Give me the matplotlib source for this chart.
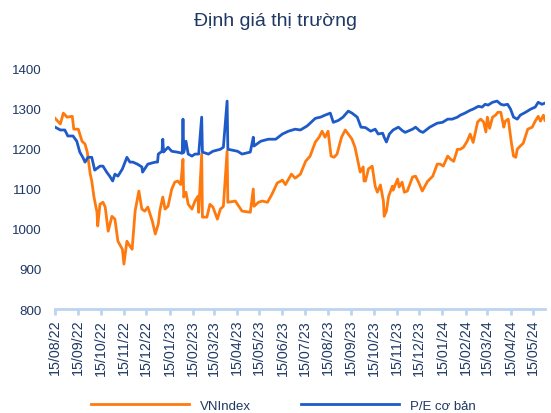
import matplotlib
matplotlib.use("Agg")
import matplotlib.pyplot as plt
import matplotlib.dates as mdates
import pandas as pd

plt.rcParams['font.family'] = ['Liberation Sans', 'DejaVu Sans']

title = "Định giá thị trường"
series_names = ["VNIndex", "P/E cơ bản"]

vn_dates = [
    "2022-08-15", "2022-08-22", "2022-08-26", "2022-08-31", "2022-09-07", "2022-09-09",
    "2022-09-15", "2022-09-20", "2022-09-24", "2022-09-27", "2022-10-01", "2022-10-03",
    "2022-10-06", "2022-10-10", "2022-10-11", "2022-10-14", "2022-10-18", "2022-10-21",
    "2022-10-25", "2022-10-30", "2022-11-03", "2022-11-07", "2022-11-13", "2022-11-15",
    "2022-11-19", "2022-11-23", "2022-11-26", "2022-11-30", "2022-12-05", "2022-12-09",
    "2022-12-13", "2022-12-17", "2022-12-23", "2022-12-27", "2022-12-31", "2023-01-02",
    "2023-01-06", "2023-01-09", "2023-01-13", "2023-01-18", "2023-01-22", "2023-01-26",
    "2023-01-30", "2023-02-02", "2023-02-03", "2023-02-06", "2023-02-09", "2023-02-14",
    "2023-02-18", "2023-02-22", "2023-02-23", "2023-02-27", "2023-02-28", "2023-03-06",
    "2023-03-10", "2023-03-14", "2023-03-20", "2023-03-24", "2023-03-28", "2023-04-02",
    "2023-04-03", "2023-04-13", "2023-04-22", "2023-05-03", "2023-05-07", "2023-05-08",
    "2023-05-14", "2023-05-19", "2023-05-26", "2023-06-01", "2023-06-08", "2023-06-15",
    "2023-06-19", "2023-06-27", "2023-07-02", "2023-07-09", "2023-07-16", "2023-07-22",
    "2023-07-29", "2023-08-03", "2023-08-07", "2023-08-11", "2023-08-15", "2023-08-19",
    "2023-08-23", "2023-08-27", "2023-09-02", "2023-09-07", "2023-09-11", "2023-09-16",
    "2023-09-20", "2023-09-27", "2023-10-01", "2023-10-02", "2023-10-04", "2023-10-08",
    "2023-10-13", "2023-10-17", "2023-10-20", "2023-10-24", "2023-10-28", "2023-10-29",
    "2023-11-01", "2023-11-04", "2023-11-09", "2023-11-10", "2023-11-16", "2023-11-18",
    "2023-11-22", "2023-11-25", "2023-11-29", "2023-12-06", "2023-12-10", "2023-12-14",
    "2023-12-19", "2023-12-26", "2024-01-02", "2024-01-08", "2024-01-12", "2024-01-16",
    "2024-01-22", "2024-01-26", "2024-01-30", "2024-02-04", "2024-02-08", "2024-02-12",
    "2024-02-17", "2024-02-21", "2024-02-25", "2024-03-02", "2024-03-06", "2024-03-10",
    "2024-03-13", "2024-03-15", "2024-03-18", "2024-03-22", "2024-03-26", "2024-03-29",
    "2024-04-02", "2024-04-06", "2024-04-08", "2024-04-12", "2024-04-16", "2024-04-19",
    "2024-04-22", "2024-04-24", "2024-04-28", "2024-05-02", "2024-05-08", "2024-05-14",
    "2024-05-18", "2024-05-22", "2024-05-25", "2024-05-29", "2024-05-31",
]
vn_values = [
    1275, 1261, 1288, 1278, 1280, 1248,
    1248, 1218, 1211, 1191, 1136, 1119,
    1079, 1041, 1007, 1061, 1066, 1054,
    994, 1031, 1024, 969, 949, 912,
    969, 957, 949, 1044, 1094, 1049,
    1044, 1054, 1019, 987, 1012, 1044,
    1079, 1049, 1056, 1099, 1116, 1119,
    1110, 1173, 1079, 1091, 1061, 1049,
    1069, 1081, 1041, 1186, 1029, 1029,
    1061, 1054, 1024, 1049, 1056, 1193,
    1066, 1069, 1044, 1041, 1099, 1056,
    1066, 1069, 1066, 1086, 1114, 1121,
    1110, 1136, 1126, 1136, 1168, 1181,
    1216, 1228, 1243, 1228, 1243, 1181,
    1178, 1186, 1228, 1246, 1236, 1223,
    1203, 1141, 1154, 1119, 1119, 1149,
    1156, 1106, 1091, 1109, 1069, 1031,
    1044, 1081, 1106, 1096, 1124, 1104,
    1116, 1091, 1094, 1129, 1131, 1116,
    1094, 1118, 1131, 1161, 1161, 1156,
    1181, 1173, 1168, 1198, 1198, 1203,
    1218, 1236, 1215, 1266, 1273, 1266,
    1241, 1278, 1250, 1278, 1283, 1290,
    1290, 1253, 1268, 1273, 1216, 1181,
    1178, 1198, 1206, 1213, 1248, 1253,
    1268, 1280, 1268, 1283, 1270,
]

pe_dates = [
    "2022-08-15", "2022-08-22", "2022-08-28", "2022-09-01", "2022-09-08", "2022-09-13",
    "2022-09-17", "2022-09-21", "2022-09-24", "2022-09-28", "2022-10-03", "2022-10-07",
    "2022-10-14", "2022-10-18", "2022-10-23", "2022-10-27", "2022-10-31", "2022-11-03",
    "2022-11-07", "2022-11-13", "2022-11-19", "2022-11-23", "2022-11-27", "2022-12-03",
    "2022-12-09", "2022-12-10", "2022-12-17", "2022-12-27", "2022-12-30", "2022-12-31",
    "2023-01-05", "2023-01-06", "2023-01-07", "2023-01-13", "2023-01-18", "2023-01-25",
    "2023-02-01", "2023-02-02", "2023-02-03", "2023-02-06", "2023-02-09", "2023-02-14",
    "2023-02-18", "2023-02-23", "2023-02-27", "2023-02-28", "2023-03-08", "2023-03-14",
    "2023-03-24", "2023-03-28", "2023-04-02", "2023-04-03", "2023-04-16", "2023-04-22",
    "2023-05-03", "2023-05-07", "2023-05-08", "2023-05-17", "2023-05-27", "2023-06-06",
    "2023-06-15", "2023-06-23", "2023-07-02", "2023-07-09", "2023-07-18", "2023-07-29",
    "2023-08-05", "2023-08-11", "2023-08-18", "2023-08-22", "2023-08-29", "2023-09-04",
    "2023-09-11", "2023-09-16", "2023-09-23", "2023-09-28", "2023-10-04", "2023-10-11",
    "2023-10-17", "2023-10-21", "2023-10-27", "2023-10-29", "2023-11-01", "2023-11-05",
    "2023-11-10", "2023-11-17", "2023-11-22", "2023-11-26", "2023-12-06", "2023-12-10",
    "2023-12-16", "2023-12-20", "2023-12-29", "2024-01-08", "2024-01-15", "2024-01-22",
    "2024-01-28", "2024-02-04", "2024-02-08", "2024-02-14", "2024-02-21", "2024-02-25",
    "2024-03-03", "2024-03-08", "2024-03-12", "2024-03-16", "2024-03-22", "2024-03-28",
    "2024-04-02", "2024-04-06", "2024-04-11", "2024-04-15", "2024-04-19", "2024-04-24",
    "2024-04-28", "2024-05-05", "2024-05-12", "2024-05-18", "2024-05-22", "2024-05-27",
    "2024-05-31",
]
pe_values = [
    1253, 1246, 1246, 1231, 1231, 1218,
    1191, 1178, 1166, 1178, 1178, 1146,
    1156, 1156, 1141, 1131, 1119, 1136,
    1131, 1149, 1178, 1166, 1166, 1161,
    1154, 1141, 1161, 1166, 1166, 1186,
    1193, 1223, 1191, 1203, 1193, 1191,
    1188, 1273, 1190, 1218, 1186, 1181,
    1186, 1186, 1278, 1191, 1186, 1193,
    1198, 1203, 1318, 1198, 1193, 1186,
    1191, 1228, 1206, 1218, 1223, 1223,
    1236, 1243, 1248, 1246, 1256, 1275,
    1278, 1283, 1288, 1265, 1270, 1278,
    1293, 1288, 1278, 1253, 1252, 1243,
    1248, 1236, 1238, 1228, 1216, 1236,
    1246, 1253, 1245, 1240, 1248, 1253,
    1243, 1240, 1253, 1263, 1265, 1273,
    1273, 1278, 1283, 1288, 1295, 1298,
    1305, 1303, 1310, 1308, 1315, 1318,
    1310, 1308, 1310, 1298, 1278, 1273,
    1283, 1290, 1298, 1303, 1315, 1310,
    1313,
]

x_start = "2022-08-15"
x_end = "2024-05-31"
tick_dates = pd.date_range("2022-08-01", "2024-05-01", freq="MS") + pd.Timedelta(days=14)

navy = "#1F3864"
orange = "#FF7A0E"
blue = "#1F5BC8"
axis_blue = "#BDD4F0"

fig = plt.figure(figsize=(5.51, 4.14), dpi=100)
ax = fig.add_axes([0.1, 0.251, 0.889, 0.582])

ax.plot(pd.to_datetime(vn_dates), vn_values, color=orange, lw=2.0, label=series_names[0])
ax.plot(pd.to_datetime(pe_dates), pe_values, color=blue, lw=2.0, label=series_names[1])

ax.set_xlim(pd.Timestamp(x_start), pd.Timestamp(x_end))
ax.set_ylim(800, 1400)
ax.set_yticks(range(800, 1401, 100))
ax.set_xticks(tick_dates)
ax.xaxis.set_major_formatter(mdates.DateFormatter("%d/%m/%y"))

for s in ["top", "right", "left"]:
    ax.spines[s].set_visible(False)
ax.spines["bottom"].set_color(axis_blue)
ax.spines["bottom"].set_linewidth(2.0)

ax.tick_params(axis="y", length=0, labelsize=9.6, labelcolor=navy, pad=10)
ax.tick_params(axis="x", length=4, width=2, color=axis_blue, labelsize=10.3,
               labelcolor=navy, labelrotation=90, pad=3)

fig.text(0.5, 0.947, title, ha="center", va="center", fontsize=14, color=navy)

fig.legend(loc="center", bbox_to_anchor=(0.515, 0.017), ncol=2, frameon=False,
           handlelength=7.4, handletextpad=0.85, columnspacing=3.8,
           fontsize=9.5, labelcolor=navy)

fig.savefig("out.png", dpi=100)
